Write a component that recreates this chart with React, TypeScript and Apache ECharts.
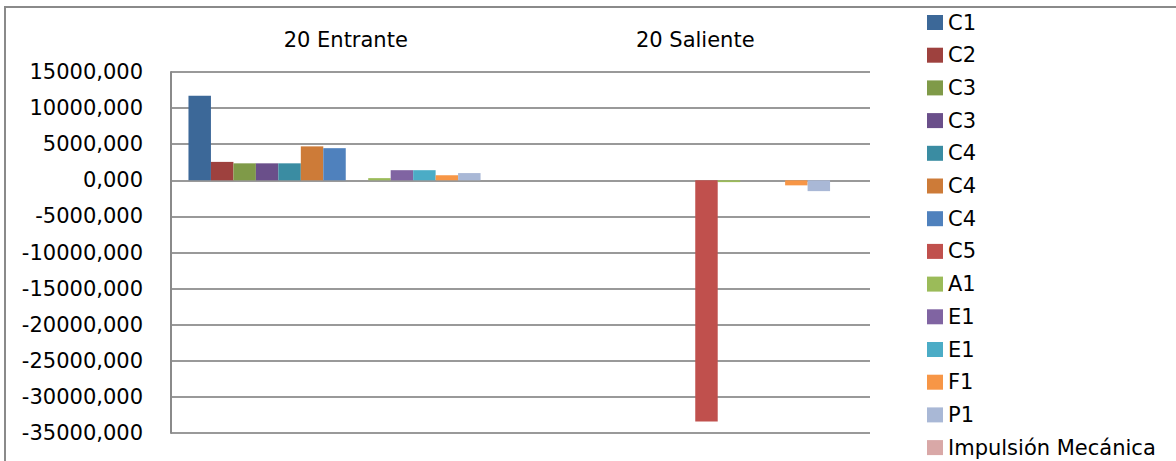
import React, { useEffect, useRef } from "react";
import * as echarts from "echarts";

const categories = ["20 Entrante", "20 Saliente"];
const seriesLabels = ["C1", "C2", "C3", "C3", "C4", "C4", "C4", "C5", "A1", "E1", "E1", "F1", "P1", "Impulsión Mecánica"];
const entranteValues = [11700, 2550, 2350, 2350, 2350, 4700, 4450, 0, 300, 1400, 1400, 700, 1000, 0];
const salienteValues = [0, 0, 0, 0, 0, 0, 0, -33400, -250, 0, 0, -700, -1500, 0];
const seriesColors = ["#3C6898", "#9E413E", "#7F9A48", "#6A4F8A", "#3A8CA2", "#CD7B38", "#4F81BD", "#C0504D", "#9BBB59", "#8064A2", "#4BACC6", "#F79646", "#A9B8D6", "#D9A8A7"];
const yTicks = { min: -35000, max: 15000, interval: 5000 };

const FONT = "DejaVu Sans";

export default function App() {
  const ref = useRef<HTMLDivElement>(null);
  useEffect(() => {
    document.body.style.margin = "0";
    if (!ref.current) return;
    const chart = echarts.init(ref.current, null, { renderer: "svg" });
    const keys = seriesLabels.map((l, i) => `${l}#${i}`);
    const labelOf: Record<string, string> = {};
    keys.forEach((k, i) => (labelOf[k] = seriesLabels[i]));
    chart.setOption({
      animation: false,
      backgroundColor: "#ffffff",
      graphic: [
        {
          type: "rect",
          shape: { x: 5, y: 7, width: 1200, height: 480 },
          style: { fill: "none", stroke: "#8a8a8a", lineWidth: 2 },
          silent: true,
        },
      ],
      grid: { left: 171, right: 306, top: 72, bottom: 28, containLabel: false },
      legend: {
        orient: "vertical",
        left: 927,
        top: 12,
        height: 800,
        padding: 0,
        itemWidth: 16,
        itemHeight: 15,
        itemGap: 11.7,
        icon: "rect",
        data: keys,
        formatter: (name: string) => labelOf[name] ?? name,
        textStyle: { fontFamily: FONT, fontSize: 21, color: "#000", lineHeight: 21 },
        selectedMode: false,
      },
      xAxis: {
        type: "category",
        data: categories,
        position: "top",
        axisLine: { show: false, onZero: false },
        axisTick: { show: false },
        axisLabel: { color: "#000", fontFamily: FONT, fontSize: 21, margin: 22 },
        splitLine: { show: false },
      },
      yAxis: {
        type: "value",
        min: yTicks.min,
        max: yTicks.max,
        interval: yTicks.interval,
        axisLine: { show: true, lineStyle: { color: "#8a8a8a", width: 2 } },
        axisTick: { show: false },
        axisLabel: {
          color: "#000",
          fontFamily: FONT,
          fontSize: 21,
          margin: 28,
          formatter: (v: number) => v.toFixed(3).replace(".", ","),
        },
        splitLine: { show: true, lineStyle: { color: "#999999", width: 2 } },
      },
      series: keys.map((k, i) => ({
        name: k,
        type: "bar",
        data: [entranteValues[i], salienteValues[i]],
        itemStyle: { color: seriesColors[i] },
        barGap: "0%",
        barCategoryGap: "10%",
      })),
    });
    return () => chart.dispose();
  }, []);
  return <div ref={ref} style={{ width: 1176, height: 461 }} />;
}
